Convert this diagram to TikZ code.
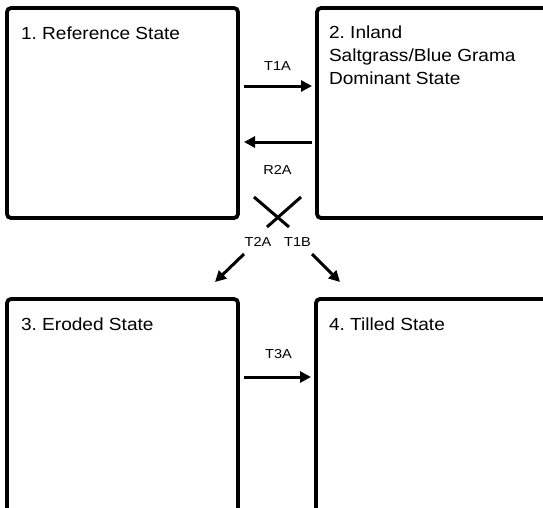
\documentclass[tikz,border=0pt]{standalone}
\usepackage{fontspec}
\setmainfont{Liberation Sans}[FakeStretch=1.09]
\newfontfamily\lblfont{Liberation Sans}[FakeStretch=1.12]
\usetikzlibrary{arrows.meta}
\frenchspacing
\begin{document}
\begin{tikzpicture}[x=1pt,y=-1pt,
  statebox/.style={draw=black, line width=3.8pt, rounded corners=4pt,
    inner sep=0pt, outer sep=0pt, rectangle},
  maintext/.style={inner sep=0pt, outer sep=0pt, text=black,
    font=\fontsize{17.5}{23}\selectfont},
  lbl/.style={inner sep=0pt, outer sep=0pt, text=black,
    font=\lblfont\fontsize{13}{15}\selectfont},
  arr/.style={draw=black, line width=3pt,
    -{Triangle[length=11pt,width=11pt]}},
  xline/.style={draw=black, line width=3pt}]
\useasboundingbox (0,0) rectangle (543,507);
\clip (0,0) rectangle (543,507);
% state boxes
\node[statebox, minimum width=231pt, minimum height=210pt] (s1) at (122.5,113) {};
\node[statebox, minimum width=253pt, minimum height=210pt] (s2) at (443.5,113) {};
\node[statebox, minimum width=231pt, minimum height=231pt] (s3) at (122.5,414.5) {};
\node[statebox, minimum width=254pt, minimum height=231pt] (s4) at (443,414.5) {};
% state titles
\node[maintext, anchor=base west] (t1) at (21,39) {1. Reference State};
\node[maintext, anchor=north west, align=left] (t2) at (329,26.3) {2. Inland\\Saltgrass/Blue Grama\\Dominant State};
\node[maintext, anchor=base west] (t3) at (21,330) {3. Eroded State};
\node[maintext, anchor=base west] (t4) at (329,330) {4. Tilled State};
% horizontal transitions
\draw[arr, shorten <=6pt, shorten >=5pt] (s1.east |- 0,86) -- (s2.west |- 0,86);
\draw[arr, shorten <=5pt, shorten >=6pt] (s2.west |- 0,142) -- (s1.east |- 0,142);
\draw[arr, shorten <=6pt, shorten >=5pt] (s3.east |- 0,377) -- (s4.west |- 0,377);
% crossing lines
\coordinate (xa1) at (254,197);
\coordinate (xa2) at (289,227);
\coordinate (xb1) at (301,197);
\coordinate (xb2) at (267,227);
\draw[xline] (xa1) -- (xa2);
\draw[xline] (xb1) -- (xb2);
% diagonal arrows
\coordinate (da1) at (244,254);
\coordinate (da2) at (215,282);
\coordinate (db1) at (312,254);
\coordinate (db2) at (340,282);
\draw[arr] (da1) -- (da2);
\draw[arr] (db1) -- (db2);
% labels
\node[lbl] (lt1a) at (277.5,66.5) {T1A};
\node[lbl] (lr2a) at (277.5,170) {R2A};
\node[lbl] (lt2a) at (258,242) {T2A};
\node[lbl] (lt1b) at (297.5,242) {T1B};
\node[lbl] (lt3a) at (278.5,354.5) {T3A};
\end{tikzpicture}
\end{document}
